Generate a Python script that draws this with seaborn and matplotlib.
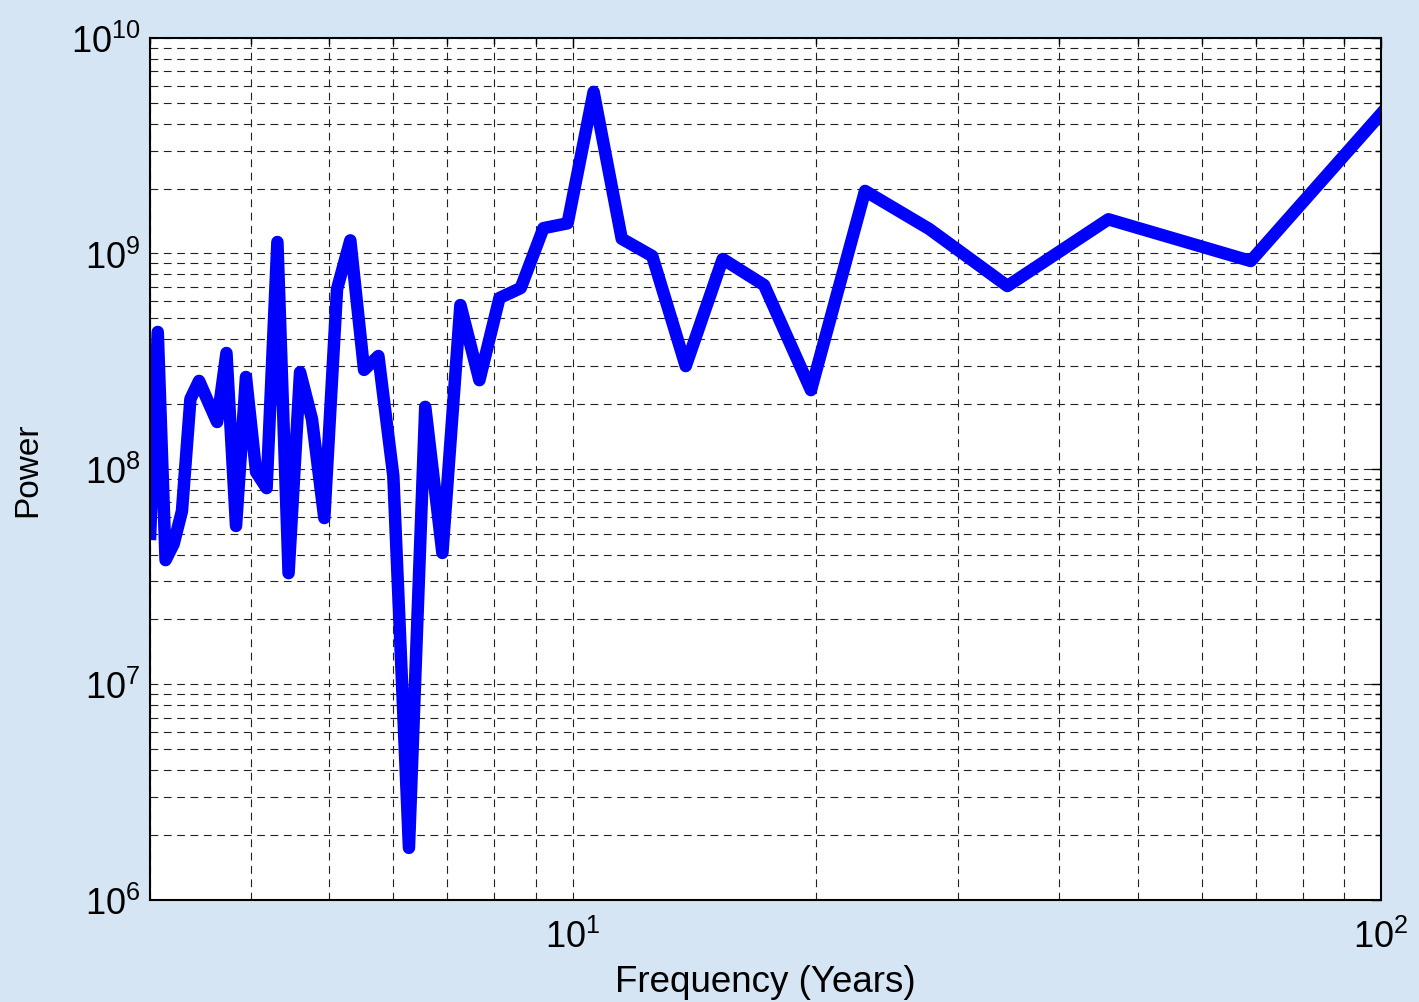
import matplotlib
matplotlib.use("Agg")
import matplotlib.pyplot as plt
import matplotlib.ticker as mticker
import seaborn as sns
import pandas as pd

periods = [138.0, 69.0, 46.0, 34.5, 27.6, 23.0, 19.714, 17.25, 15.333, 13.8,
           12.545, 11.5, 10.615, 9.857, 9.2, 8.625, 8.118, 7.667, 7.263, 6.9,
           6.571, 6.273, 6.0, 5.75, 5.52, 5.308, 5.111, 4.929, 4.759, 4.6,
           4.452, 4.3125, 4.182, 4.059, 3.943, 3.833, 3.730, 3.632, 3.538, 3.45,
           3.366, 3.286, 3.209, 3.136, 3.067, 3.0]
power = [1.74e10, 9.22e8, 1.44e9, 7.06e8, 1.30e9, 1.95e9, 2.32e8, 7.13e8, 9.42e8, 3.00e8,
         9.72e8, 1.17e9, 5.62e9, 1.38e9, 1.31e9, 6.91e8, 6.21e8, 2.58e8, 5.76e8, 4.07e7,
         1.94e8, 1.74e6, 9.26e7, 3.34e8, 2.88e8, 1.15e9, 6.83e8, 5.91e7, 1.70e8, 2.81e8,
         3.28e7, 1.13e9, 8.14e7, 9.66e7, 2.67e8, 5.43e7, 3.45e8, 1.65e8, 2.06e8, 2.56e8,
         2.11e8, 6.37e7, 4.48e7, 3.77e7, 4.32e8, 4.67e7]

x_label = "Frequency (Years)"
y_label = "Power"

sns.set_style("white")
plt.rcParams['font.family'] = ['Liberation Sans', 'DejaVu Sans']
plt.rcParams['mathtext.fontset'] = 'custom'
plt.rcParams['mathtext.rm'] = 'Liberation Sans'
plt.rcParams['mathtext.it'] = 'Liberation Sans'
plt.rcParams['mathtext.bf'] = 'Liberation Sans'
plt.rcParams['text.color'] = 'black'
plt.rcParams['axes.labelcolor'] = 'black'
plt.rcParams['xtick.color'] = 'black'
plt.rcParams['ytick.color'] = 'black'

df = pd.DataFrame({"period": periods, "power": power})

fig = plt.figure(figsize=(14.19, 10.03), dpi=100)
fig.patch.set_facecolor('#d6e5f4')
ax = fig.add_axes([150/1419, 1 - 900.7/1003, (1381 - 150)/1419, (900.7 - 39)/1003])
ax.set_facecolor('white')

sns.lineplot(data=df, x="period", y="power", ax=ax, color=(0, 0, 1),
             linewidth=9, sort=True, estimator=None, zorder=3)
for ln in ax.get_lines():
    ln.set_solid_joinstyle('round')
    ln.set_solid_capstyle('butt')

ax.set_xscale('log')
ax.set_yscale('log')
ax.set_xlim(3, 100)
ax.set_ylim(1e6, 1e10)

ax.xaxis.set_major_locator(mticker.LogLocator(base=10, numticks=10))
ax.xaxis.set_minor_locator(mticker.LogLocator(base=10, subs=range(2, 10), numticks=20))
ax.yaxis.set_major_locator(mticker.LogLocator(base=10, numticks=10))
ax.yaxis.set_minor_locator(mticker.LogLocator(base=10, subs=range(2, 10), numticks=20))
ax.xaxis.set_minor_formatter(mticker.NullFormatter())
ax.yaxis.set_minor_formatter(mticker.NullFormatter())

grid_style = dict(color='#222222', linestyle=(0, (7, 5)), linewidth=0.8)
ax.grid(True, which='major', **grid_style)
ax.grid(True, which='minor', **grid_style)
ax.set_axisbelow(True)

ax.tick_params(which='both', direction='in', top=True, right=True,
               color='black', labelcolor='black', labelsize=26)
ax.tick_params(which='major', length=7, width=1)
ax.tick_params(which='minor', length=4, width=1)
ax.tick_params(axis='x', pad=14)
ax.tick_params(axis='y', pad=7)

for s in ax.spines.values():
    s.set_color('black')
    s.set_linewidth(1.5)
    s.set_zorder(4)

ax.set_xlabel(x_label, fontsize=26.5, labelpad=6, color='black')
ax.set_ylabel(y_label, fontsize=24, labelpad=20, color='black')

fig.savefig("out.png", dpi=100, facecolor=fig.get_facecolor())
